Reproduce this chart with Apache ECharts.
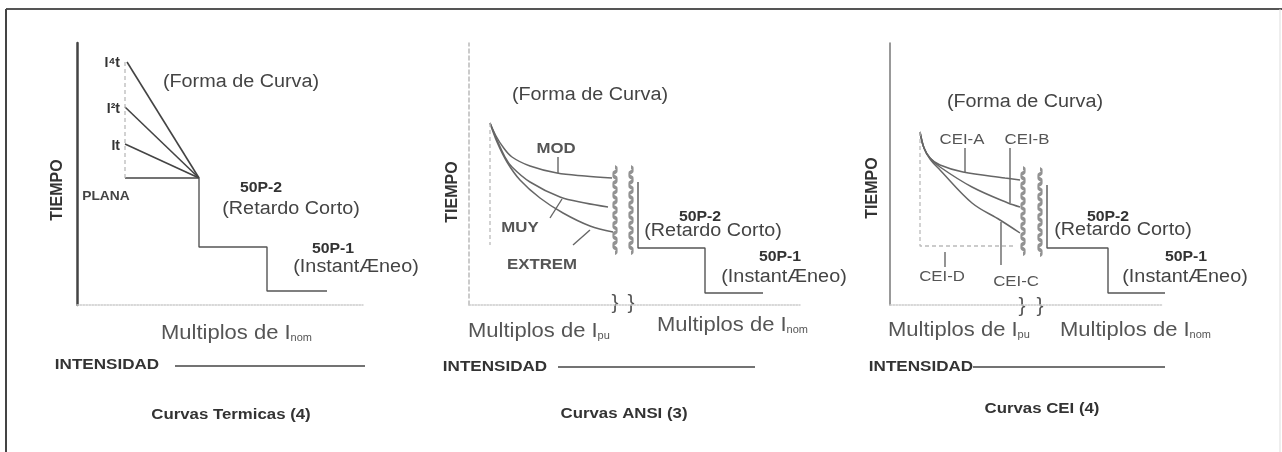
<!DOCTYPE html>
<html>
<head>
<meta charset="utf-8">
<script src="https://cdn.jsdelivr.net/npm/echarts@6/dist/echarts.min.js"></script>
<style>
  html, body { margin: 0; background: #fff; }
  #chart { width: 1282px; height: 452px; }
</style>
</head>
<body>
<div id="chart"></div>
<script>
// units: 1 unit = 10 px, x from each panel's time axis, y up from the current axis

// --- panel 1: curvas termicas ---
const termI4t   = [[5.0, 24.3], [12.2, 12.7]];
const termI2t   = [[4.8, 19.8], [12.2, 12.7]];
const termIt    = [[4.8, 16.1], [12.2, 12.7]];
const termPlana = [[4.8, 12.7], [12.2, 12.7]];
const termGuide = [[4.8, 24.3], [4.8, 12.7]];
const termSteps = [[12.2, 12.7], [12.2, 5.8], [19.0, 5.8], [19.0, 1.4], [25.0, 1.4]];
const termTexts = [
  ['I⁴t', 4.3, 24.2, 'exp'], ['I²t', 4.3, 19.6, 'exp'], ['It', 4.3, 15.9, 'exp'],
  ['PLANA', 2.9, 10.8, 'plana'],
  ['(Forma de Curva)', 16.4, 22.3, 'big'],
  ['50P-2', 18.4, 11.7, 'relay'], ['(Retardo Corto)', 21.4, 9.6, 'big'],
  ['50P-1', 25.6, 5.6, 'relay'], ['(InstantÆneo)', 27.9, 3.8, 'big'],
  ['TIEMPO', -1.9, 11.5, 'tiempo'],
  ['Multiplos de I|nom', 8.4, -2.6, 'mult'],
  ['INTENSIDAD', 3.0, -6.0, 'intens'],
  ['Curvas Termicas (4)', 15.4, -11.0, 'title']
];

// --- panel 2: curvas ANSI ---
const ansiMod    = [[2.1, 18.2], [2.7, 16.9], [3.4, 15.8], [4.3, 14.8], [6.1, 13.9], [8.8, 13.2], [11.6, 12.9], [14.3, 12.7]];
const ansiMuy    = [[2.1, 18.2], [2.8, 16.5], [3.6, 14.8], [4.3, 13.8], [6.1, 12.3], [9.1, 10.8], [11.6, 10.2], [13.9, 9.8]];
const ansiExtrem = [[2.1, 18.2], [2.8, 16.3], [3.8, 14.3], [5.1, 12.5], [7.1, 10.7], [9.4, 9.2], [12.1, 7.9], [14.4, 7.3]];
const ansiGuide  = [[2.1, 18.2], [2.1, 6.0]];
const ansiSteps  = [[16.9, 12.3], [16.9, 5.7], [23.6, 5.7], [23.6, 1.2], [29.4, 1.2]];
const ansiLeaders = [
  [[8.9, 14.8], [8.9, 13.2]],
  [[8.1, 8.7], [9.3, 10.6]],
  [[10.4, 6.0], [12.1, 7.5]]
];
const ansiWaves = [[14.6, 9.5], [16.2, 9.5]];
const ansiTexts = [
  ['MOD', 8.7, 15.6, 'tag'], ['MUY', 5.1, 7.7, 'tag'], ['EXTREM', 7.3, 4.0, 'tag'],
  ['(Forma de Curva)', 12.1, 21.0, 'big'],
  ['50P-2', 23.1, 8.8, 'relay'], ['(Retardo Corto)', 24.4, 7.4, 'big'],
  ['50P-1', 31.1, 4.8, 'relay'], ['(InstantÆneo)', 31.5, 2.8, 'big'],
  ['}', 14.6, 0.2, 'brace'], ['}', 16.2, 0.2, 'brace'],
  ['TIEMPO', -1.6, 11.3, 'tiempo'],
  ['Multiplos de I|pu', -0.1, -2.4, 'mult'], ['Multiplos de I|nom', 18.8, -1.8, 'mult'],
  ['INTENSIDAD', 2.6, -6.2, 'intens'],
  ['Curvas ANSI (3)', 15.5, -10.9, 'title']
];

// --- panel 3: curvas CEI ---
const ceiA = [[3.0, 17.3], [3.4, 15.7], [4.0, 14.7], [5.0, 14.0], [7.3, 13.3], [11.5, 12.7], [13.0, 12.5]];
const ceiB = [[3.0, 17.3], [3.4, 15.7], [4.0, 14.7], [5.0, 13.8], [8.2, 11.8], [11.8, 10.2], [13.0, 9.8]];
const ceiC = [[3.0, 17.3], [3.4, 15.7], [4.0, 14.6], [5.0, 13.5], [8.2, 10.2], [11.0, 8.5], [13.0, 7.2]];
const ceiD = [[3.0, 17.3], [3.0, 5.9], [12.5, 5.9]];
const ceiSteps = [[15.7, 12.0], [15.7, 5.7], [21.8, 5.7], [21.8, 1.2], [29.2, 1.2]];
const ceiLeaders = [
  [[7.5, 15.7], [7.5, 13.3]],
  [[12.0, 15.7], [12.0, 10.2]],
  [[11.1, 8.3], [11.1, 4.0]],
  [[5.5, 5.3], [5.5, 3.8]]
];
const ceiWaves = [[13.3, 9.4], [15.0, 9.3]];
const ceiTexts = [
  ['CEI-A', 7.2, 16.5, 'cei'], ['CEI-B', 13.7, 16.5, 'cei'], ['CEI-C', 12.6, 2.3, 'cei'], ['CEI-D', 5.2, 2.8, 'cei'],
  ['(Forma de Curva)', 13.5, 20.3, 'big'],
  ['50P-2', 21.8, 8.8, 'relay'], ['(Retardo Corto)', 23.3, 7.5, 'big'],
  ['50P-1', 29.6, 4.8, 'relay'], ['(InstantÆneo)', 29.5, 2.8, 'big'],
  ['}', 13.2, -0.1, 'brace'], ['}', 15.0, -0.1, 'brace'],
  ['TIEMPO', -1.7, 11.7, 'tiempo'],
  ['Multiplos de I|pu', -0.2, -2.3, 'mult'], ['Multiplos de I|nom', 17.0, -2.3, 'mult'],
  ['INTENSIDAD', 3.1, -6.2, 'intens'],
  ['Curvas CEI (4)', 15.2, -10.4, 'title']
];

// rules beside TIEMPO and after INTENSIDAD
const tiempoRules = [
  [[-1.9, 24.5], [-1.9, 15.2]],
  [[-1.7, 24.5], [-1.7, 14.5]],
  [[-1.8, 24.5], [-1.8, 14.7]]
];
const intensRules = [
  [[9.8, -6.1], [28.8, -6.1]],
  [[8.9, -6.2], [28.6, -6.2]],
  [[8.3, -6.2], [28.3, -6.2]]
];

// ---- layout / styles ----
const FONT = '"Liberation Sans", Arial, Helvetica, sans-serif';
const PANELS = [
  {left: 77,  width: 286, yLine: {color: '#444', width: 2.5, type: 'solid'}},
  {left: 469, width: 331, yLine: {color: '#bbb', width: 1.5, type: [4, 3]}},
  {left: 890, width: 273, yLine: {color: '#777', width: 1.5, type: 'solid'}}
];
const TOP = 43, HEIGHT = 262;
const WAVE_PATH = 'path://M0,0 Q3,2.5 0,5 T0,10 T0,15 T0,20 T0,25 T0,30 T0,35 T0,40 T0,45 T0,50 T0,55 T0,60 T0,65 T0,70 T0,75 T0,80 T0,85';

const TEXT_STYLE = {
  big:    {font: '18px', sx: 1.1,  fill: '#444'},
  relay:  {font: 'bold 14px', sx: 1.13, fill: '#333'},
  tag:    {font: 'bold 14px', sx: 1.2, fill: '#555'},
  cei:    {font: '14px', sx: 1.2, fill: '#555'},
  exp:    {font: 'bold 14px', sx: 1, fill: '#333', align: 'right'},
  plana:  {font: 'bold 12px', sx: 1.15, fill: '#444'},
  tiempo: {font: 'bold 16px', sx: 1, fill: '#333', rotate: true},
  mult:   {font: '20px', sx: 1.1, fill: '#555', align: 'left'},
  intens: {font: 'bold 14px', sx: 1.22, fill: '#333'},
  title:  {font: 'bold 14px', sx: 1.2, fill: '#333'},
  brace:  {font: '21px', sx: 1, fill: '#555'}
};

function line(gi, data, color, width, extra) {
  return Object.assign({
    type: 'line', xAxisIndex: gi, yAxisIndex: gi, data: data,
    symbol: 'none', clip: false, silent: true, animation: false,
    lineStyle: {color: color, width: width}
  }, extra || {});
}
function dashed(gi, data) {
  return line(gi, data, '#bbb', 1.3, {lineStyle: {color: '#bbb', width: 1.3, type: [4, 3]}});
}
function waves(gi, data) {
  return {
    type: 'scatter', xAxisIndex: gi, yAxisIndex: gi, data: data,
    symbol: WAVE_PATH, symbolSize: [5, 86], symbolKeepAspect: false,
    itemStyle: {color: 'transparent', borderColor: '#777', borderWidth: 1},
    clip: false, silent: true, animation: false
  };
}

const series = [];
// panel 1
[termI4t, termI2t, termIt, termPlana].forEach(d => series.push(line(0, d, '#444', 1.6)));
series.push(dashed(0, termGuide));
series.push(line(0, termSteps, '#555', 1.4));
// panel 2
[ansiMod, ansiMuy, ansiExtrem].forEach(d => series.push(line(1, d, '#666', 1.5, {smooth: 0.35})));
series.push(dashed(1, ansiGuide));
series.push(line(1, ansiSteps, '#555', 1.4));
ansiLeaders.forEach(d => series.push(line(1, d, '#666', 1.4)));
series.push(waves(1, ansiWaves));
// panel 3
[ceiA, ceiB, ceiC].forEach(d => series.push(line(2, d, '#666', 1.5, {smooth: 0.35})));
series.push(dashed(2, ceiD));
series.push(line(2, ceiSteps, '#555', 1.4));
ceiLeaders.forEach(d => series.push(line(2, d, '#666', 1.4)));
series.push(waves(2, ceiWaves));
// rules
tiempoRules.forEach((d, i) => series.push(line(i, d, '#444', 1.5)));
intensRules.forEach((d, i) => series.push(line(i, d, '#444', 1.5)));

const chart = echarts.init(document.getElementById('chart'));
chart.setOption({
  backgroundColor: '#fff',
  animation: false,
  grid: PANELS.map(p => ({left: p.left, top: TOP, width: p.width, height: HEIGHT})),
  xAxis: PANELS.map((p, i) => ({
    type: 'value', gridIndex: i, min: 0, max: p.width / 10,
    axisLine: {show: true, onZero: false, lineStyle: {color: '#ccc', width: 1.5, type: 'dotted'}},
    axisTick: {show: false}, axisLabel: {show: false}, splitLine: {show: false}
  })),
  yAxis: PANELS.map((p, i) => ({
    type: 'value', gridIndex: i, min: 0, max: HEIGHT / 10,
    axisLine: {show: true, onZero: false, lineStyle: p.yLine},
    axisTick: {show: false}, axisLabel: {show: false}, splitLine: {show: false}
  })),
  series: series
});

// texts placed through each panel's own axes
function textEl(gi, item) {
  const [text, x, y, kind] = item;
  const s = TEXT_STYLE[kind];
  const pt = chart.convertToPixel({gridIndex: gi}, [x, y]);
  const align = s.align || 'center';
  const style = {
    text: text, font: s.font + ' ' + FONT, fill: s.fill,
    align: align, verticalAlign: 'middle', textAlign: align, textVerticalAlign: 'middle'
  };
  if (kind === 'mult') {
    const parts = text.split('|');
    style.text = '{m|' + parts[0] + '}{s|' + parts[1] + '}';
    style.rich = {
      m: {font: s.font + ' ' + FONT, fill: s.fill, lineHeight: 24, verticalAlign: 'bottom'},
      s: {font: '10px ' + FONT, fill: s.fill, lineHeight: 12, verticalAlign: 'bottom'}
    };
  }
  return {
    type: 'text', x: pt[0], y: pt[1], scaleX: s.sx,
    rotation: s.rotate ? Math.PI / 2 : 0, silent: true, style: style
  };
}

const graphic = [
  {type: 'line', silent: true, shape: {x1: 6, y1: 9, x2: 1282, y2: 9}, style: {stroke: '#555', lineWidth: 2}},
  {type: 'line', silent: true, shape: {x1: 6, y1: 9, x2: 6, y2: 452}, style: {stroke: '#444', lineWidth: 2}},
  {type: 'line', silent: true, shape: {x1: 1280, y1: 9, x2: 1280, y2: 452}, style: {stroke: '#ddd', lineWidth: 1}}
];
[termTexts, ansiTexts, ceiTexts].forEach((list, gi) => {
  list.forEach(item => graphic.push(textEl(gi, item)));
});
chart.setOption({graphic: graphic});
</script>
</body>
</html>
